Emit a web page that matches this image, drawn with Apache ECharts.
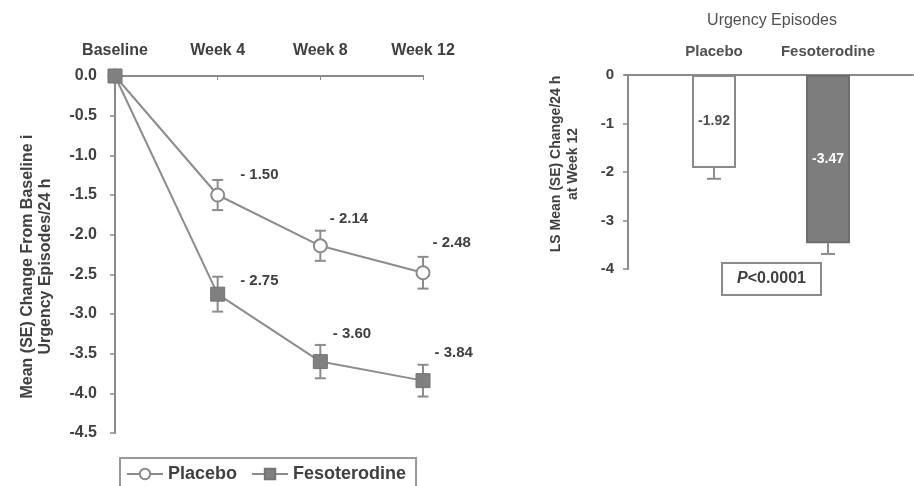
<!DOCTYPE html>
<html>
<head>
<meta charset="utf-8">
<script src="https://cdn.jsdelivr.net/npm/echarts@6/dist/echarts.min.js"></script>
<style>
html,body{margin:0;padding:0;background:#fff;}
#c{width:914px;height:486px;}
</style>
</head>
<body>
<div id="c"></div>
<script>
// ---- data ----
var weeks = ['Baseline', 'Week 4', 'Week 8', 'Week 12'];
var placeboMean = [0, -1.50, -2.14, -2.48];
var placeboSE = [0, 0.19, 0.19, 0.20];
var fesoMean = [0, -2.75, -3.60, -3.84];
var fesoSE = [0, 0.22, 0.21, 0.20];
var yTicksLeft = {min: -4.5, max: 0, interval: 0.5};

var groups = ['Placebo', 'Fesoterodine'];
var lsMean = [-1.92, -3.47];
var lsSE = [0.22, 0.22];
var yTicksRight = {min: -4, max: 0, interval: 1};

// ---- styles ----
var FONT = 'Liberation Sans, Arial, sans-serif';
var TXT = '#404040';
var AX = '#8a8a8a';
var LINE = '#8c8c8c';
var placeboLabelOffsets = [null, [10, -20], [-3, -27], [-3, -30]];
var fesoLabelOffsets = [null, [10, -13], [0, -28], [-1, -28]];

function fmtLabel(v) { return '- ' + Math.abs(v).toFixed(2); }

function lineData(mean, offsets) {
  return mean.map(function (v, i) {
    var item = {value: v};
    if (offsets[i]) {
      item.label = {show: true, position: 'right', offset: offsets[i], formatter: fmtLabel(v)};
    }
    return item;
  });
}
function errData(mean, se) {
  var out = [];
  mean.forEach(function (v, i) { if (se[i] > 0) out.push([i, v, se[i]]); });
  return out;
}
function errRender(twoSided, cap) {
  return function (params, api) {
    var i = api.value(0), m = api.value(1), s = api.value(2);
    var hi = api.coord([i, twoSided ? m + s : m]);
    var lo = api.coord([i, m - s]);
    var st = {stroke: LINE, lineWidth: 2};
    var children = [
      {type: 'line', shape: {x1: hi[0], y1: hi[1], x2: lo[0], y2: lo[1]}, style: st},
      {type: 'line', shape: {x1: lo[0] - cap / 2, y1: lo[1], x2: lo[0] + cap / 2, y2: lo[1]}, style: st}
    ];
    if (twoSided) children.push({type: 'line', shape: {x1: hi[0] - cap / 2, y1: hi[1], x2: hi[0] + cap / 2, y2: hi[1]}, style: st});
    return {type: 'group', children: children};
  };
}

var chart = echarts.init(document.getElementById('c'));
var option = {
  animation: false,
  backgroundColor: '#fff',
  textStyle: {fontFamily: FONT},
  title: [
    {text: 'Urgency Episodes', left: 767, top: 8, textAlign: 'center',
     textStyle: {fontSize: 16, fontWeight: 'normal', color: '#505050', fontFamily: FONT}},
    {text: '{i|P}{n|<0.0001}', left: 722, top: 263, padding: [8, 15, 8, 15],
     borderColor: '#8a8a8a', borderWidth: 2,
     textStyle: {rich: {
       i: {fontStyle: 'italic', fontSize: 16, color: TXT, fontFamily: FONT},
       n: {fontSize: 16, color: TXT, fontFamily: FONT}
     }}}
  ],
  legend: {
    data: ['Placebo', 'Fesoterodine'],
    left: 120, top: 458,
    borderColor: '#999', borderWidth: 2,
    padding: [7, 10, 12, 6],
    itemWidth: 36, itemHeight: 13, itemGap: 14,
    textStyle: {fontSize: 18, fontWeight: 'bold', color: TXT, fontFamily: FONT}
  },
  grid: [
    {left: 115, right: 491, top: 76, bottom: 53},
    {left: 657, width: 228, top: 75, height: 194},
    {left: 625, right: 1, top: 75, height: 194}
  ],
  xAxis: [
    {gridIndex: 0, type: 'category', data: weeks, position: 'top', boundaryGap: false,
     axisLine: {lineStyle: {color: AX, width: 2}},
     axisTick: {inside: true, length: 4, lineStyle: {color: AX, width: 1}},
     axisLabel: {interval: 0, margin: 17, fontSize: 16, fontWeight: 'bold', color: TXT, fontFamily: FONT},
     splitLine: {show: false}},
    {gridIndex: 1, type: 'category', data: groups, position: 'top',
     axisLine: {show: false}, axisTick: {show: false},
     axisLabel: {interval: 0, margin: 16, fontSize: 15, fontWeight: 'bold', color: '#505050', fontFamily: FONT}},
    {gridIndex: 2, type: 'value', position: 'top', min: 0, max: 1,
     axisLine: {show: true, onZero: false, lineStyle: {color: AX, width: 2}},
     axisTick: {show: false}, axisLabel: {show: false}, splitLine: {show: false}}
  ],
  yAxis: [
    {gridIndex: 0, type: 'value', min: yTicksLeft.min, max: yTicksLeft.max, interval: yTicksLeft.interval,
     axisLine: {show: true, lineStyle: {color: AX, width: 2}},
     axisTick: {show: true, length: 5, lineStyle: {color: AX, width: 1.5}},
     axisLabel: {margin: 18, fontSize: 16, fontWeight: 'bold', color: TXT, fontFamily: FONT,
                 formatter: function (v) { return v.toFixed(1); }},
     splitLine: {show: false},
     name: 'Mean (SE) Change From Baseline i\nUrgency Episodes/24 h',
     nameLocation: 'middle', nameRotate: 90, nameGap: 60,
     nameTextStyle: {fontSize: 16, fontWeight: 'bold', color: TXT, lineHeight: 18, fontFamily: FONT, padding: [0, 24, 0, 0]}},
    {gridIndex: 1, type: 'value', min: yTicksRight.min, max: yTicksRight.max, interval: yTicksRight.interval,
     offset: 29,
     axisLine: {show: true, lineStyle: {color: AX, width: 2}},
     axisTick: {show: true, length: 5, lineStyle: {color: AX, width: 1.5}},
     axisLabel: {margin: 14, fontSize: 15, fontWeight: 'bold', color: TXT, fontFamily: FONT},
     splitLine: {show: false},
     name: 'LS Mean (SE) Change/24 h\nat Week 12',
     nameLocation: 'middle', nameRotate: 90, nameGap: 46,
     nameTextStyle: {fontSize: 14, fontWeight: 'bold', color: TXT, lineHeight: 17, fontFamily: FONT, padding: [0, 0, 0, 16]}},
    {gridIndex: 2, type: 'value', show: false, min: 0, max: 1}
  ],
  series: [
    {type: 'custom', name: 'errP', xAxisIndex: 0, yAxisIndex: 0, z: 1,
     renderItem: errRender(true, 11), data: errData(placeboMean, placeboSE), silent: true},
    {type: 'custom', name: 'errF', xAxisIndex: 0, yAxisIndex: 0, z: 1,
     renderItem: errRender(true, 11), data: errData(fesoMean, fesoSE), silent: true},
    {type: 'line', name: 'Placebo', xAxisIndex: 0, yAxisIndex: 0, z: 3,
     data: lineData(placeboMean, placeboLabelOffsets),
     symbol: 'circle', symbolSize: 13,
     itemStyle: {color: '#ffffff', borderColor: '#8a8a8a', borderWidth: 2},
     lineStyle: {color: LINE, width: 2},
     label: {show: false, fontSize: 15, fontWeight: 'bold', color: TXT, fontFamily: FONT}},
    {type: 'line', name: 'Fesoterodine', xAxisIndex: 0, yAxisIndex: 0, z: 4,
     data: lineData(fesoMean, fesoLabelOffsets),
     symbol: 'rect', symbolSize: 14,
     itemStyle: {color: '#808080', borderColor: '#747474', borderWidth: 1},
     lineStyle: {color: LINE, width: 2},
     label: {show: false, fontSize: 15, fontWeight: 'bold', color: TXT, fontFamily: FONT}},
    {type: 'custom', name: 'errBar', xAxisIndex: 1, yAxisIndex: 1, z: 1,
     renderItem: errRender(false, 14), data: errData(lsMean, lsSE), silent: true},
    {type: 'bar', name: 'LS', xAxisIndex: 1, yAxisIndex: 1, z: 3, barWidth: 44,
     data: [
       {value: lsMean[0], itemStyle: {color: '#ffffff', borderColor: '#8a8a8a', borderWidth: 2},
        label: {color: '#505050'}},
       {value: lsMean[1], itemStyle: {color: '#7d7d7d', borderColor: '#6e6e6e', borderWidth: 2},
        label: {color: '#ffffff'}}
     ],
     label: {show: true, position: 'inside', fontSize: 14, fontWeight: 'bold', fontFamily: FONT,
             formatter: function (p) { return p.value.toFixed(2); }}}
  ]
};
chart.setOption(option);
</script>
</body>
</html>
